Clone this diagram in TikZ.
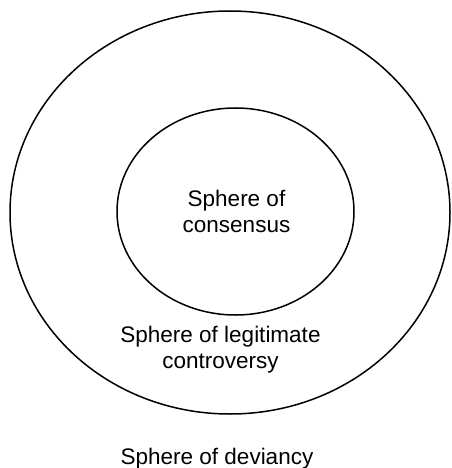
\documentclass[tikz,border=0pt]{standalone}
\usepackage{fontspec}
\setmainfont{Liberation Sans}
\usepackage{tikz}

\begin{document}
\begin{tikzpicture}[x=1pt,y=-1pt]
\tikzset{sphere/.style={black,line width=1.5pt},
  label/.style={font=\fontsize{22.5}{25.5}\selectfont,text=black,align=center,anchor=base,inner sep=0pt}}
\useasboundingbox (0,0) rectangle (451,468);
\draw[sphere] (230,212.5) ellipse [x radius=220pt, y radius=201.5pt];
\draw[sphere] (235.5,211.5) ellipse [x radius=118.5pt, y radius=103.5pt];
% last line baselines
\node[label] (consensus) at (236.5,232) {Sphere of\\consensus};
\node[label] (legit) at (220.5,368) {Sphere of legitimate\\controversy};
\node[label] (deviancy) at (217,464) {Sphere of deviancy};
\end{tikzpicture}
\end{document}
